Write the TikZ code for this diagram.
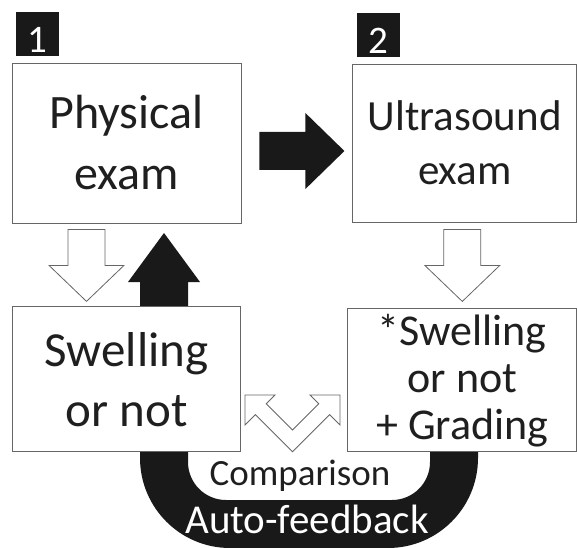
\documentclass[tikz,border=0pt]{standalone}
\usepackage{fontspec}
\setmainfont{Carlito}
\usetikzlibrary{positioning}
\tikzstyle{exam box}=[draw=black!60, line width=0.8pt, fill=white, text=black!88, align=center, inner sep=0pt]
\tikzstyle{number tag}=[fill=black!90, text=white, minimum width=43pt, minimum height=44pt, inner sep=0pt, text height=36pt, text depth=0pt, font=\fontsize{39}{39}\selectfont]
\tikzstyle{hollow block}=[draw=black!60, fill=white, line width=0.8pt]
\tikzstyle{solid block}=[fill=black!90]
\newcommand{\examnode}[3][]{
  \node [exam box, #1] (#2) {#3}
}
\newcommand{\downblock}[1]{
  \draw[hollow block] (#1) ++(-18.5,0) -- ++(37,0) -- ++(0,36) -- ++(19,0) -- ++(-37.5,36) -- ++(-37.5,-36) -- ++(19,0) -- cycle
}
\newcommand{\rightblock}[1]{
  \fill[solid block] (#1) ++(0,-19) -- ++(46,0) -- ++(0,-19) -- ++(39,38) -- ++(-39,38) -- ++(0,-19) -- ++(-46,0) -- cycle
}

\begin{document}
\begin{tikzpicture}[x=1pt, y=-1pt]
  \useasboundingbox (0,0) rectangle (578,548);
  % feedback loop
  \fill[solid block] (478,452) -- (478,458) arc[start angle=0, end angle=90, radius=90]
    -- (230,548) arc[start angle=90, end angle=180, radius=90]
    -- (140,282) -- (128,282) -- (164,233) -- (200,282) -- (188,282)
    -- (188,462) arc[start angle=180, end angle=90, radius=38]
    -- (392,500) arc[start angle=90, end angle=0, radius=38] -- (430,452) -- cycle;

  \examnode[at={(126.5,143)}, minimum width=229pt, minimum height=160pt, font=\fontsize{48}{61}\selectfont]{phys}{Physical\\exam};
  \examnode[right=111pt of phys, minimum width=224pt, minimum height=158pt, font=\fontsize{43}{54}\selectfont]{ultra}{Ultrasound\\exam};
  \examnode[below=83pt of phys, minimum width=228pt, minimum height=145pt, font=\fontsize{49}{60}\selectfont]{swell}{Swelling\\or not};
  \examnode[below=86pt of ultra, xshift=-2.5pt, minimum width=229pt, minimum height=143pt, font=\fontsize{44}{47}\selectfont]{grade}{*Swelling\\or not\\+ Grading};

  \node[number tag, above right=6pt and 4pt of phys.north west] (tag1) {1};
  \node[number tag, above right=6pt and 4pt of ultra.north west] (tag2) {2};

  \coordinate (d1) at ([xshift=-40pt, yshift=-6pt]phys.south);
  \coordinate (d2) at ([xshift=-2.5pt, yshift=-7pt]ultra.south);
  \coordinate (r1) at ([xshift=18pt, yshift=-8pt]phys.east);
  \downblock{d1};
  \downblock{d2};
  \rightblock{r1};

  % comparison arrows
  \draw[hollow block] (245,395) -- (245,425) -- (255.4,414.6) -- (292.5,451.7) -- (329.6,414.6)
    -- (340,425) -- (340,395) -- (310,395) -- (318.75,403.75) -- (292.5,430)
    -- (266.25,403.75) -- (275,395) -- cycle;

  \node[anchor=base, text=black!88, font=\fontsize{37}{37}\selectfont] (cmp) at (300,485) {Comparison};
  \node[anchor=base, text=white, font=\fontsize{41}{41}\selectfont] (auto) at (307,533) {Auto-feedback};
\end{tikzpicture}
\end{document}
